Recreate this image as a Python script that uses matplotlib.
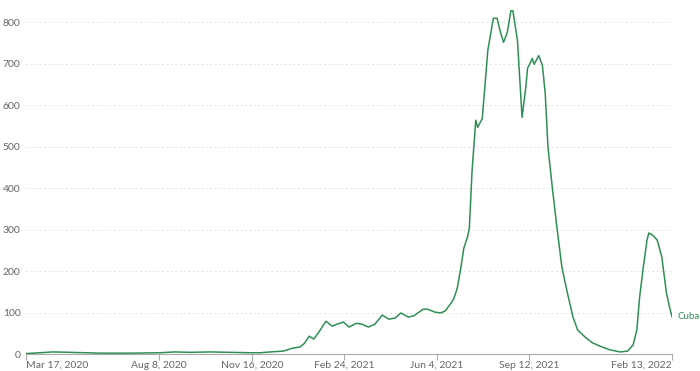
"""Cuba: daily new cases per million (7-day avg), OWID-style line chart."""

import matplotlib
matplotlib.use("Agg")
import matplotlib.pyplot as plt
import numpy as np
import pandas as pd

country = "Cuba"
dates = [
    "2020-03-17", "2020-04-01", "2020-04-15", "2020-05-04", "2020-06-05",
    "2020-07-07", "2020-08-09", "2020-08-25", "2020-09-10", "2020-10-02",
    "2020-10-23", "2020-11-14", "2020-11-25", "2020-12-06", "2020-12-20",
    "2020-12-30", "2021-01-07", "2021-01-12", "2021-01-17", "2021-01-22",
    "2021-01-29", "2021-02-04", "2021-02-11", "2021-02-16", "2021-02-23",
    "2021-03-01", "2021-03-09", "2021-03-15", "2021-03-22", "2021-03-29",
    "2021-04-06", "2021-04-13", "2021-04-20", "2021-04-26", "2021-05-04",
    "2021-05-10", "2021-05-20", "2021-05-25", "2021-06-02", "2021-06-08",
    "2021-06-13", "2021-06-20", "2021-06-22", "2021-06-26", "2021-06-30",
    "2021-07-03", "2021-07-07", "2021-07-09", "2021-07-12", "2021-07-16",
    "2021-07-18", "2021-07-23", "2021-07-29", "2021-08-04", "2021-08-08",
    "2021-08-12", "2021-08-15", "2021-08-19", "2021-08-23", "2021-08-25",
    "2021-08-30", "2021-09-04", "2021-09-08", "2021-09-10", "2021-09-13",
    "2021-09-15", "2021-09-17", "2021-09-22", "2021-09-26", "2021-09-29",
    "2021-10-02", "2021-10-07", "2021-10-12", "2021-10-17", "2021-10-23",
    "2021-10-29", "2021-11-03", "2021-11-11", "2021-11-19", "2021-11-27",
    "2021-12-08", "2021-12-19", "2021-12-27", "2022-01-02", "2022-01-06",
    "2022-01-09", "2022-01-13", "2022-01-17", "2022-01-19", "2022-01-23",
    "2022-01-28", "2022-02-02", "2022-02-07", "2022-02-10", "2022-02-13",
]
cases_per_million = [
    1, 3, 5, 4, 2,
    2, 3, 5, 4, 5,
    4, 3, 3, 5, 7,
    14, 17, 26, 43, 36,
    58, 79, 67, 72, 77,
    65, 74, 72, 65, 72,
    94, 84, 87, 99, 89,
    92, 108, 108, 101, 99,
    104, 125, 132, 159, 210,
    255, 282, 303, 443, 564,
    547, 568, 733, 810, 810,
    773, 752, 776, 829, 829,
    757, 571, 643, 690, 703,
    713, 699, 720, 696, 629,
    499, 395, 299, 210, 147,
    89, 58, 41, 27, 19,
    10, 5, 7, 22, 58,
    137, 210, 275, 292, 287,
    275, 234, 147, 116, 90,
]
tick_dates = ["2020-03-17", "2020-08-08", "2020-11-16", "2021-02-24",
              "2021-06-04", "2021-09-12", "2022-02-13"]
tick_labels = ["Mar 17, 2020", "Aug 8, 2020", "Nov 16, 2020", "Feb 24, 2021",
               "Jun 4, 2021", "Sep 12, 2021", "Feb 13, 2022"]
y_ticks = [0, 100, 200, 300, 400, 500, 600, 700, 800]

plt.rcParams["font.family"] = ["Lato", "DejaVu Sans"]

x = pd.to_datetime(dates)
green = "#2f8f55"
grey = "#666666"

fig = plt.figure(figsize=(7, 3.71), dpi=100)
ax = fig.add_axes([26 / 700, 17 / 371, 646 / 700, 344 / 371])
ax.plot(x, cases_per_million, color=green, lw=1.1, solid_joinstyle="round")

xt = pd.to_datetime(tick_dates)
ax.set_xlim(xt[0], xt[-1])
ax.set_ylim(0, 830)

ax.set_yticks(y_ticks)
ax.set_yticklabels([str(v) for v in y_ticks])
ax.grid(axis="y", color="#e2e2e2", lw=0.7, linestyle=(0, (2, 2.5)))
ax.set_axisbelow(True)
ax.tick_params(axis="y", length=0, pad=4, labelsize=7.5, labelcolor=grey)

ax.set_xticks(xt)
ax.set_xticklabels(tick_labels)
ax.tick_params(axis="x", length=4, width=0.8, color="#aaaaaa", pad=1,
               labelsize=7.5, labelcolor=grey)
labels = ax.get_xticklabels()
labels[0].set_ha("left")
labels[-1].set_ha("right")

for side in ("top", "right", "left"):
    ax.spines[side].set_visible(False)
ax.spines["bottom"].set_color("#aaaaaa")
ax.spines["bottom"].set_linewidth(0.8)

ax.annotate(country, (x[-1], cases_per_million[-1]), xytext=(4, 0),
            textcoords="offset points", ha="left", va="center",
            fontsize=7, color=green, annotation_clip=False)

fig.savefig("out.png", dpi=100)
